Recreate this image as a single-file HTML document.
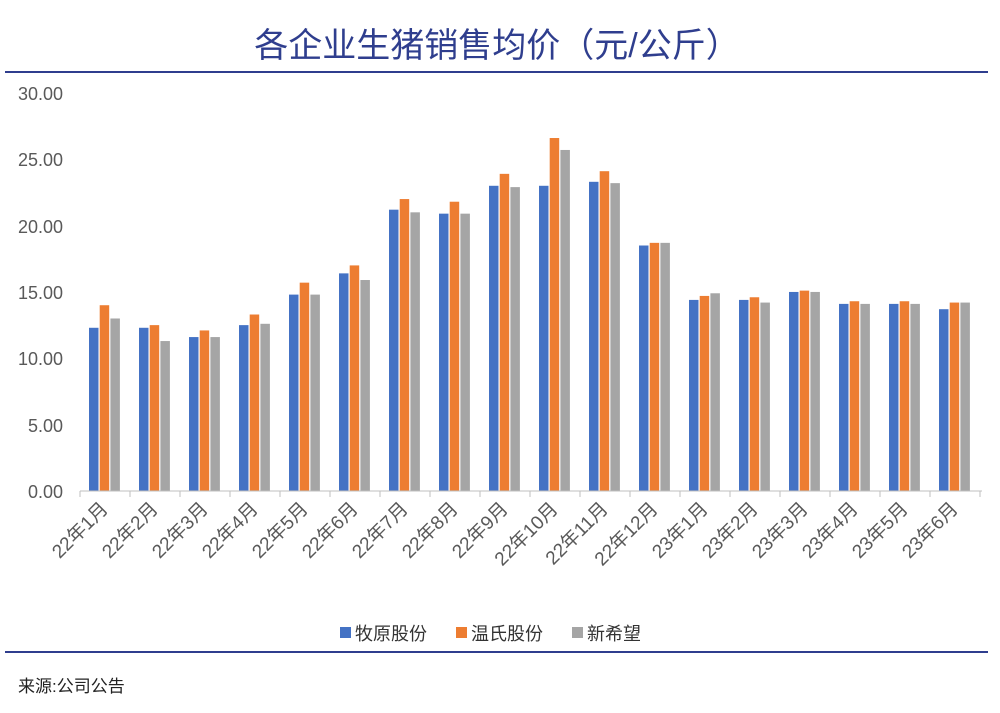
<!DOCTYPE html>
<html><head><meta charset="utf-8"><style>
html,body{margin:0;padding:0;background:#fff;}
svg{display:block;font-family:"Liberation Sans","Noto Sans CJK SC",sans-serif;}
</style></head><body>
<svg width="1000" height="713" viewBox="0 0 1000 713" xmlns="http://www.w3.org/2000/svg">
<text x="497" y="57" text-anchor="middle" font-size="34" fill="#2f3e8e" font-family="Liberation Sans,Noto Sans CJK SC,sans-serif">各企业生猪销售均价（元/公斤）</text>
<line x1="5" y1="72" x2="988" y2="72" stroke="#2f3e8e" stroke-width="2"/>
<line x1="5" y1="652" x2="988" y2="652" stroke="#2f3e8e" stroke-width="2"/>
<g font-size="18" fill="#595959" text-anchor="end">
<text x="63" y="498">0.00</text><text x="63" y="432">5.00</text><text x="63" y="365">10.00</text><text x="63" y="299">15.00</text><text x="63" y="233">20.00</text><text x="63" y="166">25.00</text><text x="63" y="100">30.00</text>
</g>
<g id="bars"></g>
<line x1="80" y1="491" x2="982" y2="491" stroke="#bfbfbf" stroke-width="1"/>
<g id="ticks" stroke="#bfbfbf"></g>
<g id="labels" font-size="19" fill="#595959"></g>
<g font-size="18" fill="#333">
<rect x="340" y="627" width="11" height="11" fill="#4472C4"/><text x="355" y="640">牧原股份</text>
<rect x="456" y="627" width="11" height="11" fill="#ED7D31"/><text x="471" y="640">温氏股份</text>
<rect x="572" y="627" width="11" height="11" fill="#A5A5A5"/><text x="587" y="640">新希望</text>
</g>
<text x="18" y="692" font-size="17" fill="#222">来源:公司公告</text>
<script>
var d=[[12.3,14.0,13.0],[12.3,12.5,11.3],[11.6,12.1,11.6],[12.5,13.3,12.6],[14.8,15.7,14.8],[16.4,17.0,15.9],[21.2,22.0,21.0],[20.9,21.8,20.9],[23.0,23.9,22.9],[23.0,26.6,25.7],[23.3,24.1,23.2],[18.5,18.7,18.7],[14.4,14.7,14.9],[14.4,14.6,14.2],[15.0,15.1,15.0],[14.1,14.3,14.1],[14.1,14.3,14.1],[13.7,14.2,14.2]];
var c=["#4472C4","#ED7D31","#A5A5A5"],ns="http://www.w3.org/2000/svg";
var b=document.getElementById("bars"),t=document.getElementById("ticks"),l=document.getElementById("labels");
var names=["22年1月","22年2月","22年3月","22年4月","22年5月","22年6月","22年7月","22年8月","22年9月","22年10月","22年11月","22年12月","23年1月","23年2月","23年3月","23年4月","23年5月","23年6月"];
for(var i=0;i<18;i++){var cx=80+50*i+25;
for(var j=0;j<3;j++){var h=d[i][j]*13.27;var r=document.createElementNS(ns,"rect");r.setAttribute("x",cx-16+j*10.7);r.setAttribute("width",9.5);r.setAttribute("y",491-h);r.setAttribute("height",h);r.setAttribute("fill",c[j]);b.appendChild(r);}
var ln=document.createElementNS(ns,"line");ln.setAttribute("x1",80+50*i);ln.setAttribute("x2",80+50*i);ln.setAttribute("y1",491);ln.setAttribute("y2",497);t.appendChild(ln);
var tx=document.createElementNS(ns,"text");tx.setAttribute("text-anchor","end");tx.setAttribute("transform","translate("+(cx+4)+",510) rotate(-45)");tx.textContent=names[i];l.appendChild(tx);}
var ln=document.createElementNS(ns,"line");ln.setAttribute("x1",980);ln.setAttribute("x2",980);ln.setAttribute("y1",491);ln.setAttribute("y2",497);t.appendChild(ln);
</script>
</svg>
</body></html>
